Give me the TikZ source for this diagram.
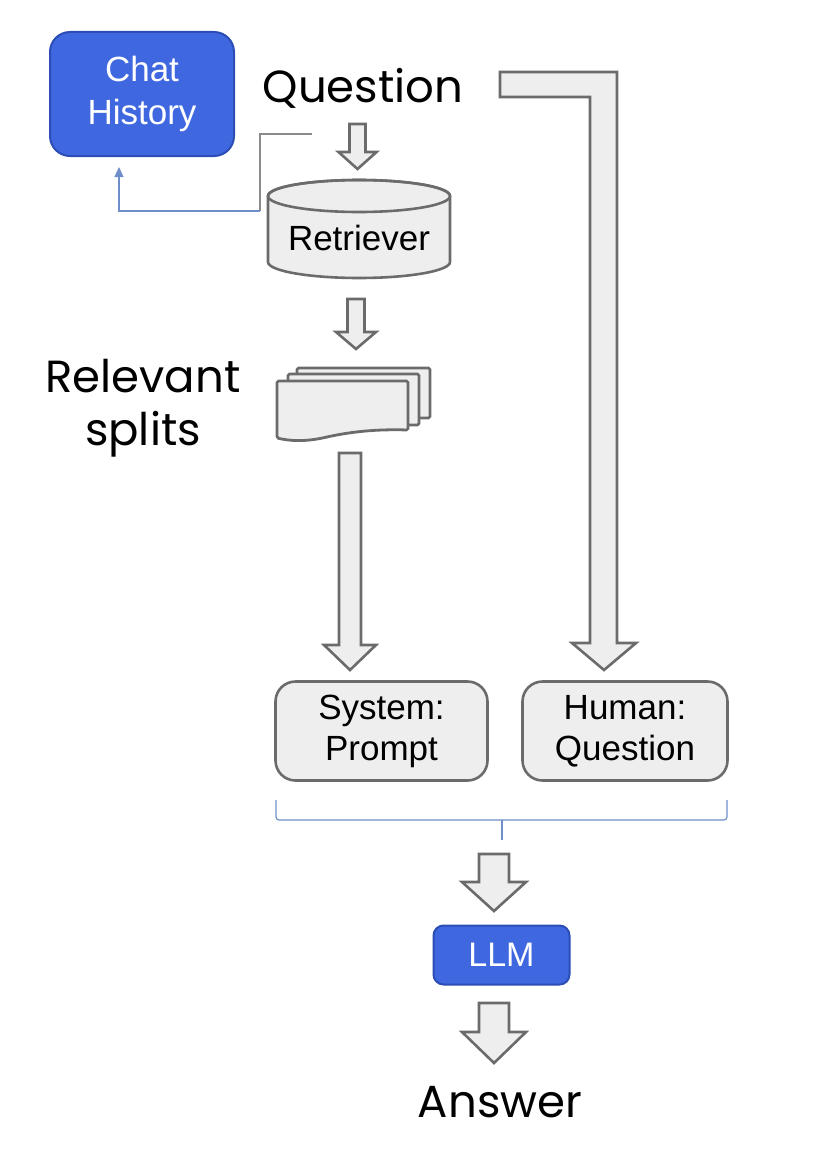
\documentclass[tikz,border=0pt]{standalone}
\usepackage{fontspec}
\setmainfont{Liberation Sans}
\newfontfamily\popfont{Poppins}
\usetikzlibrary{arrows.meta}
\definecolor{blu}{HTML}{3F68E0}
\definecolor{bluedge}{HTML}{2B4DB5}
\definecolor{gstroke}{HTML}{6B6B6B}
\definecolor{gfill}{HTML}{EEEEEE}
\definecolor{thinblue}{HTML}{6F8FCB}
\definecolor{thingray}{HTML}{8A8A8A}
\newcommand\blockdown[6]{%
  \filldraw[blockarrow] (#1-#5,#2) -- (#1+#5,#2) -- (#1+#5,#3) -- (#1+#6,#3) -- (#1,#4) -- (#1-#6,#3) -- (#1-#5,#3) -- cycle;}
\begin{document}
\begin{tikzpicture}[x=1pt,y=-1pt,
  blockarrow/.style={draw=gstroke,fill=gfill,line width=2.6pt,line join=miter},
  bluebox/.style={draw=bluedge,fill=blu,line width=2pt,text=white,align=center,font=\fontsize{35}{43}\selectfont,inner sep=0pt},
  graybox/.style={draw=gstroke,fill=gfill,line width=2.6pt,align=center,font=\fontsize{35}{41}\selectfont,inner sep=0pt,rounded corners=20pt},
  bigtext/.style={font=\popfont\fontsize{45}{53}\selectfont,align=center,inner sep=0pt},
  doc/.style={draw=gstroke,fill=gfill,line width=2.8pt,line join=round,rounded corners=1.5pt}
]
\useasboundingbox (0,0) rectangle (816,1156);

% Chat History
\node[bluebox,minimum width=184,minimum height=124,rounded corners=20pt] (chat) at (142,94) {Chat\\History};

% Question
\node[bigtext] (question) at (363,88) {Question};

% Retriever cylinder
\filldraw[draw=gstroke,fill=gfill,line width=2.6pt]
  (268,196) -- (268,262) arc[start angle=180,end angle=0,x radius=91,y radius=16]
  -- (450,196) arc[start angle=0,end angle=-180,x radius=91,y radius=16] -- cycle;
\draw[gstroke,line width=2.6pt] (359,196) ellipse[x radius=91,y radius=16];
\node[font=\fontsize{35}{40}\selectfont,inner sep=0pt] (ret) at (359,238) {Retriever};

% connector to chat history
\coordinate (qc) at (312,134);
\coordinate (bend) at (260,211);
\coordinate (ct) at (119,167);
\draw[thingray,line width=1.2pt] (qc) -- (260,134) -- (bend);
\draw[thinblue,line width=1.2pt,-{Triangle[length=10pt,width=9pt]}] (bend) -| (ct);

% arrows
\blockdown{357.5}{124}{152}{169}{8}{19}
\blockdown{356}{299}{332}{349}{8.5}{20}

% Relevant splits
\node[bigtext] (splits) at (143,408) {Relevant\\splits};

% document stack
\filldraw[doc] (297,368) rectangle (430,418);
\filldraw[doc] (288,374) rectangle (419,425);
\filldraw[doc] (277,381) -- (408,381) -- (408,430)
  .. controls (375,429) and (350,432) .. (327,437)
  .. controls (305,442) and (290,441) .. (277,438) -- cycle;

% long arrow
\blockdown{350}{453}{645}{670}{11}{26}

% L-shaped arrow from Question
\filldraw[blockarrow] (500,72) -- (617,72) -- (617,643) -- (636,643) -- (604,670)
  -- (572,643) -- (590,643) -- (590,97) -- (500,97) -- cycle;

% prompt boxes
\node[graybox,minimum width=212,minimum height=99] (sys) at (381.5,731) {System:\\Prompt};
\node[graybox,minimum width=205,minimum height=99] (hum) at (625,731) {Human:\\Question};

% brace
\coordinate (bl) at (276,800);
\coordinate (br) at (727,800);
\coordinate (bm) at (502,820);
\draw[thinblue,line width=1.2pt,rounded corners=3pt] (bl) -- (276,820) -- (727,820) -- (br);
\draw[thinblue,line width=1.2pt] (bm) -- (502,840);

% to LLM
\blockdown{494}{854}{882}{911}{15}{32}
\node[bluebox,minimum width=136,minimum height=59,rounded corners=10pt,font=\fontsize{34}{38}\selectfont] (llm) at (501.5,955) {LLM};
\blockdown{494}{1003}{1032}{1063}{15}{32}

% Answer
\node[bigtext] (answer) at (500,1102) {Answer};
\end{tikzpicture}
\end{document}
